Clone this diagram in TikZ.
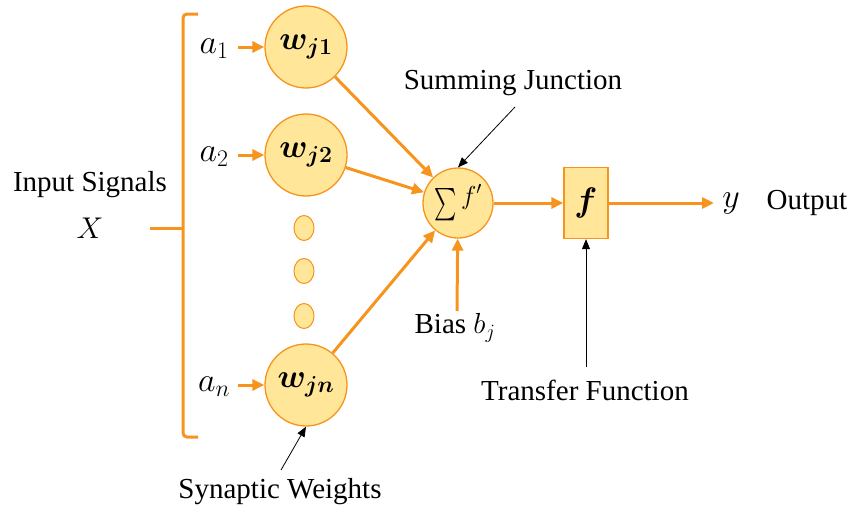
\documentclass[tikz,border=0pt]{standalone}
\usepackage{fix-cm}
\usepackage{exscale}
\usepackage{bm}
\usepackage{graphicx}
\usepackage{fontspec}
\setmainfont{Liberation Serif}
\usetikzlibrary{arrows.meta,shapes.geometric}
\definecolor{org}{HTML}{F7941D}
\definecolor{fillc}{HTML}{FFE699}
\tikzset{
  wt/.style={circle, draw=org, line width=1.3pt, fill=fillc, minimum size=82pt, inner sep=0pt, font=\fontsize{33}{36}\selectfont},
  sumnode/.style={circle, draw=org, line width=1.3pt, fill=fillc, minimum size=70pt, inner sep=0pt, font=\fontsize{28}{32}\selectfont},
  fnode/.style={rectangle, draw=org, line width=1.3pt, fill=fillc, minimum width=44pt, minimum height=71pt, inner sep=0pt, font=\fontsize{34}{36}\selectfont},
  dotnode/.style={ellipse, draw=org, line width=1pt, fill=fillc, minimum width=20pt, minimum height=25pt, inner sep=0pt},
  lbl/.style={font=\fontsize{29}{33}\selectfont, inner sep=0pt},
  mlbl/.style={font=\fontsize{34}{38}\selectfont, inner sep=0pt},
  conn/.style={draw=org, line width=3pt, -{Triangle[length=12pt,width=11pt]}},
  thinarr/.style={draw=black, line width=0.8pt, -{Triangle[length=10pt,width=8pt]}}
}
\begin{document}
\begin{tikzpicture}[x=1pt,y=-1pt]
\useasboundingbox (0,0) rectangle (855,514);
% bracket
\draw[org, line width=3pt, rounded corners=4pt] (198,14) -- (183,14) -- (183,437) -- (198,437);
\draw[org, line width=3pt] (150,228) -- (183,228);
% labels left
\node[lbl] (inp) at (90,185) {Input Signals};
\node[mlbl, font=\fontsize{30}{34}\selectfont] (X) at (90,228) {$X$};
% weights
\node[wt] (w1) at (306,47) {$\bm{w_{j1}}$};
\node[wt] (w2) at (306,155) {$\bm{w_{j2}}$};
\node[wt] (wn) at (306,385) {$\bm{w_{jn}}$};
\node[dotnode] (d1) at (304,228) {};
\node[dotnode] (d2) at (304,271) {};
\node[dotnode] (d3) at (304,316) {};
% inputs
\node[mlbl] (a1) at (214,49) {$a_1$};
\node[mlbl] (a2) at (214,157) {$a_2$};
\node[mlbl] (an) at (214,387) {$a_n$};
\draw[conn] ([xshift=-26pt]w1.west) -- (w1.west);
\draw[conn] ([xshift=-26pt]w2.west) -- (w2.west);
\draw[conn] ([xshift=-26pt]wn.west) -- (wn.west);
% sum and f
\node[sumnode] (s) at (458,203) {\raisebox{-4pt}{\scalebox{0.85}[1.3]{$\sum$}}\,\raisebox{6pt}{\fontsize{26}{30}\selectfont$f'$}};
\node[fnode] (f) at (586,203) {$\bm{f}$};
\draw[conn] (w1) -- (s);
\draw[conn] (w2) -- (s);
\draw[conn] (wn) -- (s);
\draw[conn] (s) -- (f);
\coordinate (yend) at (714,203);
\draw[conn] (f) -- (yend);
\node[mlbl] (y) at (731,203) {$y$};
\node[lbl] (out) at (807,203) {Output};
% bias
\node[lbl] (bias) at (455,328) {Bias $b_j$};
\coordinate (bstart) at (457,311);
\draw[conn] (bstart) -- (s);
% summing junction label
\node[lbl] (sj) at (513,83) {Summing Junction};
\coordinate (sjs) at (515,107);
\draw[thinarr] (sjs) -- (s.north);
% transfer function
\node[lbl] (tf) at (585,390) {Transfer Function};
\coordinate (tfs) at (586,367);
\draw[thinarr] (tfs) -- (f.south);
% synaptic weights
\node[lbl] (sw) at (280,492) {Synaptic Weights};
\coordinate (sws) at (281,470);
\draw[thinarr] (sws) -- (wn.south);
\end{tikzpicture}
\end{document}
